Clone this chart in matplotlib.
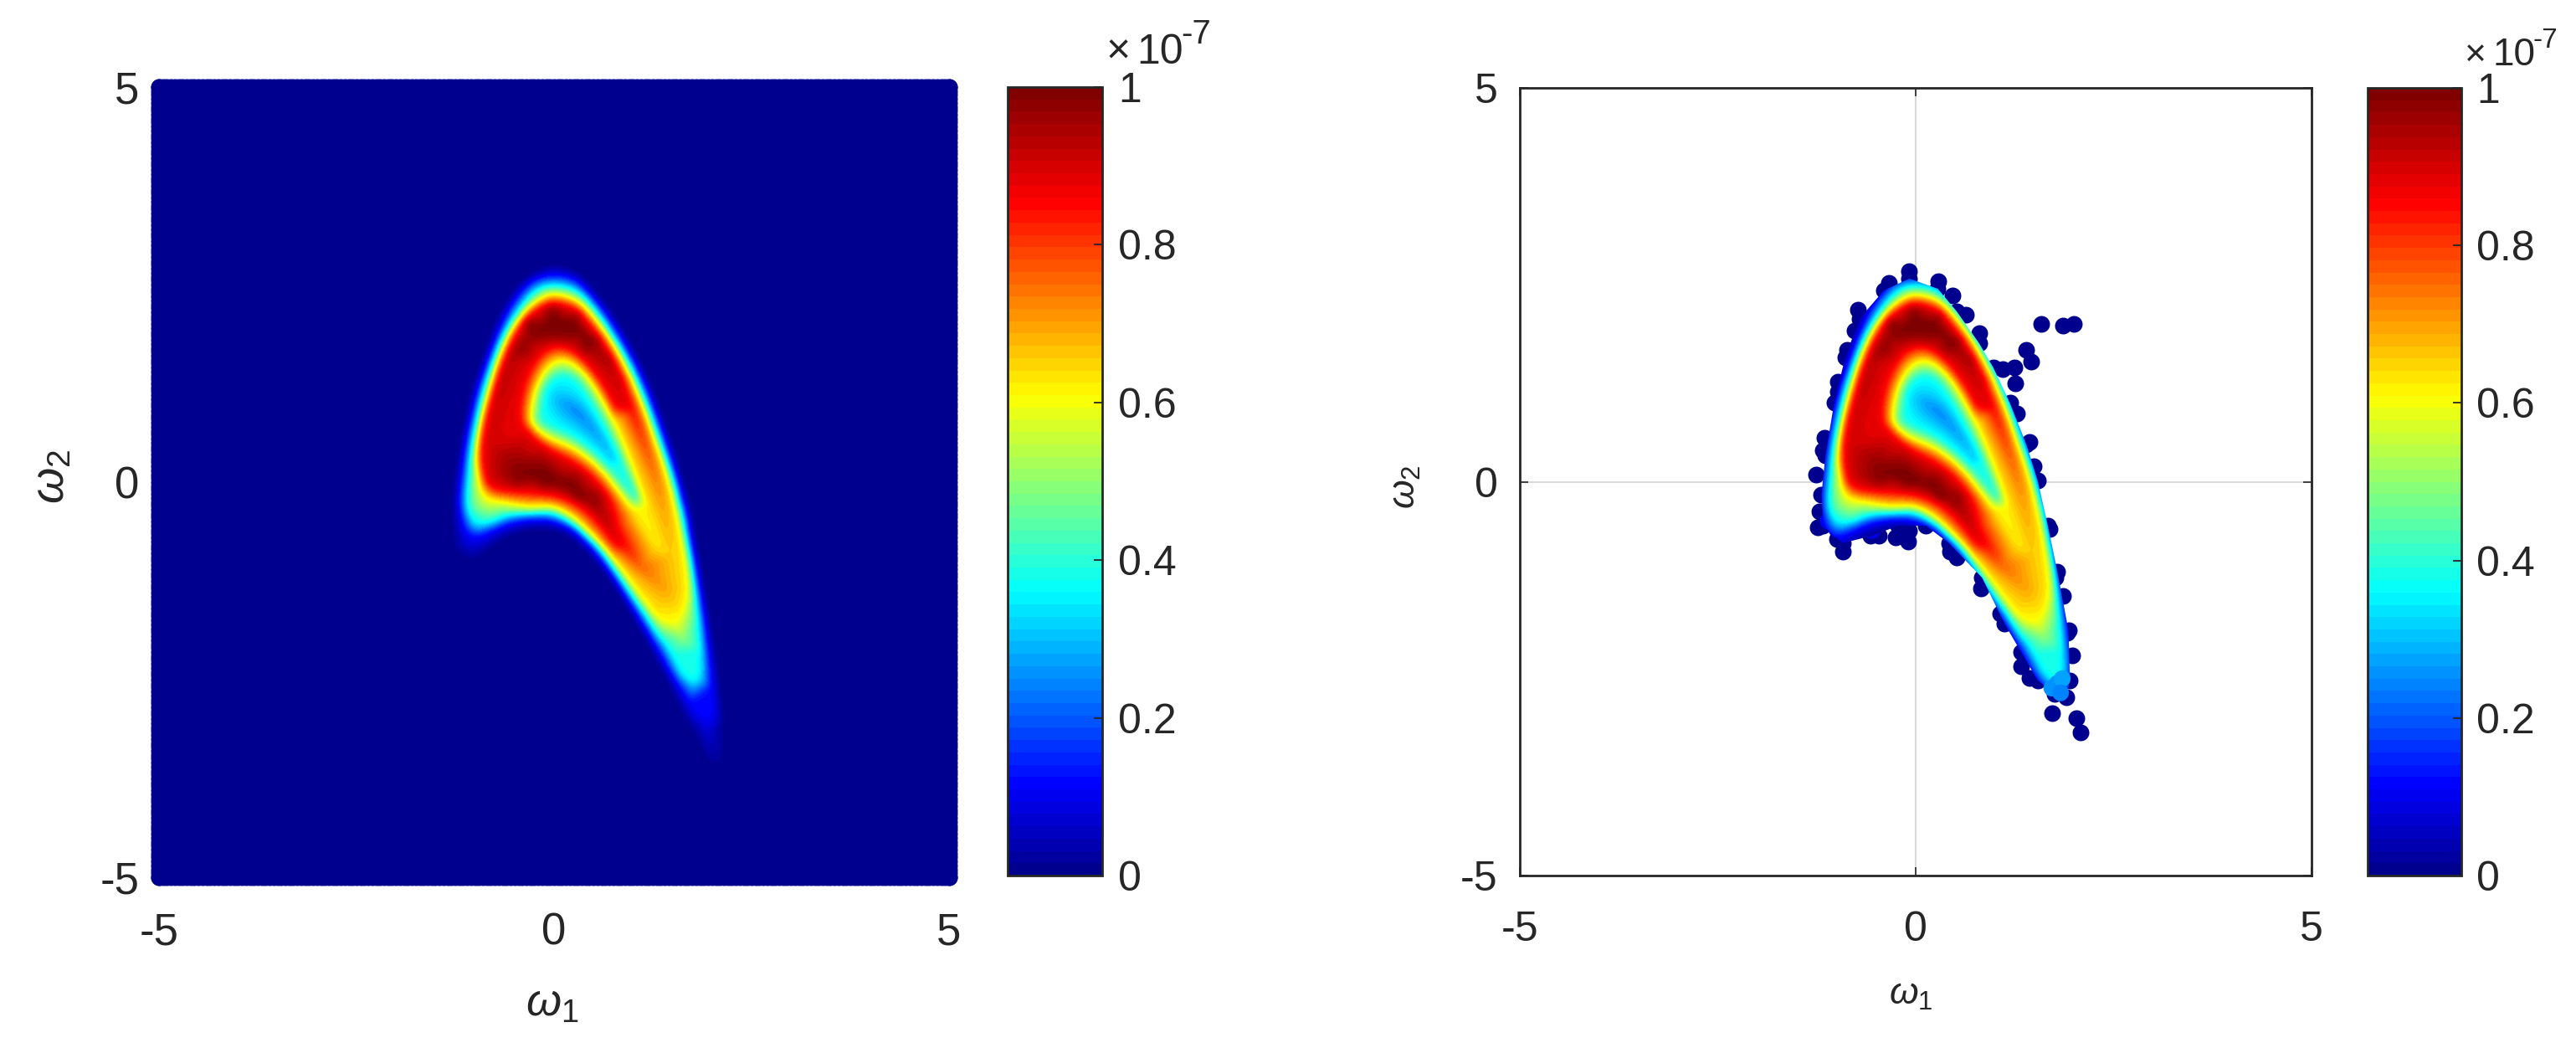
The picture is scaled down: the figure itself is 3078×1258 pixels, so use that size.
import numpy as np
import matplotlib
matplotlib.use('Agg')
import matplotlib.pyplot as plt
import matplotlib.tri as mtri
from matplotlib.cm import ScalarMappable
from matplotlib.colors import LinearSegmentedColormap, Normalize
from matplotlib.patches import Polygon

plt.rcParams['font.family'] = ['Liberation Sans', 'DejaVu Sans']
plt.rcParams['mathtext.fontset'] = 'custom'
plt.rcParams['mathtext.rm'] = 'Liberation Sans'
plt.rcParams['mathtext.it'] = 'Liberation Sans:italic'
plt.rcParams['axes.unicode_minus'] = False

# density (in units of 1e-7)
level_zero = 0.0
zero_x = [-.02, .30, .54, .79, 1.04, 1.25, 1.43, 1.59, 1.71, 1.83, 1.92, 2.03, 2.12, 2.20, 2.17, 2.03, 1.85, 1.67, 1.46, 1.29, 1.11, .93, .76, .58, .40, .23, -.02, -.30, -.55, -.76, -1.01, -1.26, -1.29, -1.28, -1.24, -1.17, -1.05, -.92, -.76, -.59, -.34]
zero_y = [2.75, 2.66, 2.41, 2.08, 1.63, 1.16, .67, .16, -.29, -.91, -1.44, -2.07, -2.78, -3.32, -3.76, -3.76, -3.41, -3.05, -2.60, -2.27, -1.93, -1.62, -1.33, -1.09, -.89, -.73, -.62, -.62, -.69, -.82, -1.00, -1.00, -.64, -.20, .16, .61, 1.14, 1.54, 1.99, 2.32, 2.61]

level_blue = 0.12
blue_x = [-.02, .26, .47, .72, .97, 1.18, 1.36, 1.52, 1.64, 1.76, 1.85, 1.94, 2.00, 2.00, 1.82, 1.62, 1.46, 1.29, 1.11, .93, .76, .58, .40, .23, -.02, -.30, -.59, -.80, -.98, -1.12, -1.19, -1.17, -1.10, -.98, -.85, -.69, -.52, -.30]
blue_y = [2.61, 2.55, 2.35, 2.01, 1.59, 1.14, .65, .16, -.29, -.91, -1.44, -2.07, -2.60, -2.95, -2.92, -2.64, -2.38, -2.07, -1.76, -1.47, -1.20, -.95, -.75, -.60, -.49, -.47, -.53, -.62, -.69, -.60, -.29, .07, .56, 1.10, 1.50, 1.92, 2.26, 2.52]

level_cyan = 0.38
cyan_x = [0, .28, .51, .74, .97, 1.16, 1.32, 1.48, 1.60, 1.71, 1.79, 1.84, 1.85, 1.78, 1.62, 1.46, 1.29, 1.11, .93, .76, .58, .40, .23, -.02, -.30, -.59, -.83, -1.01, -1.10, -1.08, -1.03, -.92, -.80, -.66, -.48, -.23]
cyan_y = [2.48, 2.41, 2.19, 1.85, 1.45, 1.01, .56, .09, -.37, -.91, -1.42, -1.93, -2.32, -2.50, -2.42, -2.12, -1.90, -1.62, -1.36, -1.11, -.86, -.68, -.53, -.40, -.40, -.42, -.51, -.49, -.29, .07, .52, 1.05, 1.45, 1.81, 2.12, 2.41]

level_yellow = 0.62
yellow_x = [.01, .30, .54, .76, .97, 1.14, 1.30, 1.45, 1.57, 1.66, 1.69, 1.60, 1.43, 1.29, 1.11, .93, .76, .58, .40, .23, -.02, -.30, -.59, -.87, -.96, -.98, -.92, -.83, -.71, -.55, -.36, -.16]
yellow_y = [2.37, 2.28, 2.03, 1.72, 1.32, .92, .47, .03, -.46, -.95, -1.36, -1.67, -1.76, -1.69, -1.47, -1.22, -1.00, -.78, -.60, -.44, -.31, -.31, -.26, -.17, .12, .38, .78, 1.14, 1.54, 1.90, 2.17, 2.32]

level_red = 0.87
red_x = [.88, .69, .47, .26, .01, -.13, -.34, -.52, -.67, -.80, -.90, -.92, -.87, -.73, -.52, -.23, .01, .26, .51, .72, .80]
red_y = [1.28, 1.65, 1.97, 2.19, 2.26, 2.23, 2.08, 1.81, 1.45, 1.05, .65, .34, .03, -.08, -.11, -.13, -.17, -.26, -.46, -.73, -.80]

ridge_x = [1.50, 1.46, 1.36, 1.22, 1.00, .76, .47, .26, -.02, -.30, -.55, -.69, -.78, -.76, -.55, -.20, .23, .54, .90, 1.11, 1.39]
ridge_y = [-1.09, -.78, -.20, .29, .92, 1.41, 1.77, 1.97, 2.03, 1.85, 1.59, 1.14, .70, .25, .07, .07, -.08, -.33, -.82, -1.09, -1.36]
ridge_v = [.66, .67, .72, .78, .87, .93, .98, 1.0, 1.0, .98, .94, .92, .90, .92, .97, 1.0, 1.0, .96, .86, .76, .70]

# the flat darkest areas of the two arcs
level_dark = 0.98
dark_x = [-.34, -.02, .30, .54, .72, .40, .12, -.16, -.41, -.48, -.13, .26, .54, .26, -.13, -.48]
dark_y = [2.03, 2.19, 2.12, 1.81, 1.54, 1.70, 1.85, 1.85, 1.68, .21, .21, .03, -.20, -.20, -.04, 0]

inner_red_x = [.76, .58, .33, .08, -.16, -.36, -.43, -.30, -.06, .23, .47, .69, .75]
inner_red_y = [.96, 1.28, 1.59, 1.72, 1.63, 1.28, .83, .61, .41, .25, .07, -.20, -.40]

inner_yellow_x = [-.30, -.23, -.06, .16, .40, .61, .81, 1.00, 1.16, 1.29, 1.04, .83, .58, .26, -.09, -.27]
inner_yellow_y = [.87, 1.19, 1.48, 1.54, 1.36, 1.05, .65, .16, -.33, -.78, -.42, -.15, .16, .41, .56, .72]

inner_cyan_x = [-.16, -.11, .05, .26, .47, .69, .86, 1.04, .83, .54, .26, -.02, -.16]
inner_cyan_y = [.92, 1.19, 1.34, 1.30, 1.01, .61, .25, -.20, .03, .34, .56, .70, .78]

hole_x = [.01, .26, .54, .76]
hole_y = [1.05, .92, .61, .29]
hole_v = [.30, .24, .26, .30]

tail_x = [1.64, 1.95, 2.00]
tail_y = [-1.98, -3.20, -3.45]
tail_v = [.50, .07, .04]

# outline of the coloured cloud in the right panel
hull_x = [-.08, .28, .52, .80, .98, 1.19, 1.40, 1.54, 1.67, 1.79, 1.93, 1.95, 1.90, 1.76, 1.54, 1.33, 1.12, .84, .42, .13, -.22, -.57, -.92, -1.17, -1.19, -1.14, -1.03, -.89, -.71, -.40]
hull_y = [2.58, 2.45, 2.16, 1.76, 1.45, 1.00, .47, .02, -.56, -1.14, -1.89, -2.52, -2.74, -2.69, -2.52, -2.16, -1.80, -1.22, -.78, -.56, -.56, -.69, -.78, -.56, -.16, .33, 1.00, 1.58, 2.07, 2.43]

# sparse dark samples around the cloud
fringe_x = [-.08, -.34, .29, .47, .63, .80, -.73, -.77, -.87, -.98, -.98, -1.15, -1.17, -1.26, -1.22, -1.24, -.99, -.92, -.47, -.25, -.10, -.08, .43, .52, .82, 1.07, 1.33, 1.44, 1.72, 2.03, 2.08, 1.98, 1.91, 1.86, 1.77, 1.69, 1.49, 1.44, 1.28, 1.59, 1.86, 2.00, 1.40, 1.46, 1.25, 1.10, 1.26]
fringe_y = [2.67, 2.52, 2.54, 2.36, 2.12, 1.89, 2.18, 1.92, 1.67, 1.27, 1.14, .56, .40, .09, -.38, -.58, -.73, -.89, -.69, -.71, -.76, -.62, -.89, -.96, -1.36, -1.67, -2.34, -2.49, -2.94, -3.00, -3.18, -2.20, -1.92, -1.45, -1.22, -.60, .20, .51, .87, 2.00, 1.98, 2.00, 1.67, 1.53, 1.45, 1.43, 1.25]

# coloured samples: blue ones under the cloud, light ones closing the tail
rim_x = [-1.00, -.75, -.55, -1.10]
rim_y = [-.60, -.62, -.62, -.50]
rim_v = [.08, .10, .08, .10]
tip_x = [1.79, 1.72, 1.85, 1.83]
tip_y = [-2.56, -2.62, -2.50, -2.68]
tip_v = [.26, .26, .28, .24]

ticks = [-5, 0, 5]
cbar_ticks = [0, 0.2, 0.4, 0.6, 0.8, 1]
cbar_labels = ['0', '0.2', '0.4', '0.6', '0.8', '1']

W, H = 3078, 1258
jet = LinearSegmentedColormap.from_list(
    'matlab_jet',
    [(0, (0, 0, .5625)), (.1094, (0, 0, 1)), (.3594, (0, 1, 1)), (.6094, (1, 1, 0)), (.8594, (1, 0, 0)), (1, (.5, 0, 0))],
    N=64)
norm = Normalize(0, 1)
navy = jet(0)
dark = '#262626'


def frac_axes(x0, y0, x1, y1):
    return fig.add_axes([x0 / W, 1 - y1 / H, (x1 - x0) / W, (y1 - y0) / H])


def put(x, y, s, size, **kw):
    fig.text(x / W, 1 - y / H, s, fontsize=size, color=dark, **kw)


def round_curve(x, y, v, closed):
    # more nodes along a read iso-line, so that its corners do not show
    p = np.c_[x, y, v]
    n = len(p)
    out = []
    last = n if closed else n - 1
    for i in range(last):
        if closed:
            a, b, c, d = p[(i - 1) % n], p[i], p[(i + 1) % n], p[(i + 2) % n]
        else:
            a, b, c, d = p[max(i - 1, 0)], p[i], p[i + 1], p[min(i + 2, n - 1)]
        for t in (0, .25, .5, .75):
            out.append(.5 * (2 * b + (c - a) * t + (2 * a - 5 * b + 4 * c - d) * t ** 2 + (3 * b - a - 3 * c + d) * t ** 3))
    if not closed:
        out.append(p[-1])
    return np.array(out)


def build_field():
    curves = [
        round_curve(zero_x, zero_y, [level_zero] * len(zero_x), True),
        round_curve(blue_x, blue_y, [level_blue] * len(blue_x), True),
        round_curve(cyan_x, cyan_y, [level_cyan] * len(cyan_x), True),
        round_curve(yellow_x, yellow_y, [level_yellow] * len(yellow_x), True),
        round_curve(red_x, red_y, [level_red] * len(red_x), False),
        round_curve(ridge_x, ridge_y, ridge_v, False),
        np.c_[dark_x, dark_y, [level_dark] * len(dark_x)],
        round_curve(inner_red_x, inner_red_y, [level_red] * len(inner_red_x), False),
        round_curve(inner_yellow_x, inner_yellow_y, [level_yellow] * len(inner_yellow_x), True),
        round_curve(inner_cyan_x, inner_cyan_y, [level_cyan] * len(inner_cyan_x), True),
        round_curve(hole_x, hole_y, hole_v, False),
        np.c_[tail_x, tail_y, tail_v],
    ]
    nodes = np.vstack(curves)
    tri = mtri.Triangulation(nodes[:, 0], nodes[:, 1])
    interp = mtri.LinearTriInterpolator(tri, nodes[:, 2])
    gx = np.arange(-2, 3.001, 0.01)
    gy = np.arange(-4.5, 3.501, 0.01)
    X, Y = np.meshgrid(gx, gy)
    Z = np.ma.filled(interp(X, Y), 0.0)
    # soften the facets of the triangles
    box = np.ones(9) / 9
    for _ in range(3):
        Z = np.apply_along_axis(np.convolve, 0, Z, box, mode='same')
        Z = np.apply_along_axis(np.convolve, 1, Z, box, mode='same')
    return Z, [gx[0], gx[-1], gy[0], gy[-1]]


def draw_field(ax, clip=None):
    im = ax.imshow(Zfield, extent=extent, origin='lower', cmap=jet, norm=norm, interpolation='bilinear',
                   zorder=3, aspect='auto')
    if clip is not None:
        im.set_clip_path(clip)
    ax.set_xlim(-5, 5)
    ax.set_ylim(-5, 5)


def style_axis(ax, size, xpad, ypad, tick_len):
    ax.set_xlim(-5, 5)
    ax.set_ylim(-5, 5)
    ax.set_xticks(ticks)
    ax.set_yticks(ticks)
    ax.tick_params(labelsize=size, labelcolor=dark, color=dark, direction='in', length=tick_len, width=1.2,
                   top=True, right=True)
    ax.tick_params(axis='x', pad=xpad)
    ax.tick_params(axis='y', pad=ypad)
    for s in ax.spines.values():
        s.set_color(dark)
        s.set_linewidth(2)


def colorbar(x0, y0, x1, y1, size, pad):
    cax = frac_axes(x0, y0, x1, y1)
    cb = fig.colorbar(ScalarMappable(norm=norm, cmap=jet), cax=cax)
    cb.set_ticks(cbar_ticks, labels=cbar_labels)
    cb.ax.tick_params(labelsize=size, labelcolor=dark, color=dark, direction='in', length=7, width=1.3, pad=pad)
    cb.outline.set_edgecolor(dark)
    cb.outline.set_linewidth(2)


Zfield, extent = build_field()

fig = plt.figure(figsize=(W / 100, H / 100), dpi=100)

# left panel
ax1 = frac_axes(190, 104, 1134, 1048)
style_axis(ax1, 38, 30, 17, 0)
ax1.set_facecolor(navy)
for s in ax1.spines.values():
    s.set_visible(False)
side = np.arange(-5, 5.01, 0.05)
ax1.scatter(np.r_[side, side, side * 0 - 5, side * 0 + 5], np.r_[side * 0 - 5, side * 0 + 5, side, side],
            s=207, color=navy, linewidths=0, clip_on=False, zorder=2)
draw_field(ax1)

# right panel
ax2 = frac_axes(1816, 105, 2762, 1046)
style_axis(ax2, 36, 30, 19, 7)
ax2.axhline(0, color='#d9d9d9', lw=1.5, zorder=1)
ax2.axvline(0, color='#d9d9d9', lw=1.5, zorder=1)
ax2.scatter(fringe_x, fringe_y, s=207, color=navy, linewidths=0, zorder=2)
ax2.scatter(hull_x, hull_y, s=207, color=navy, linewidths=0, zorder=2)
ax2.scatter(rim_x, rim_y, c=rim_v, s=207, cmap=jet, norm=norm, linewidths=0, zorder=2.5)
hull = Polygon(np.c_[hull_x, hull_y], transform=ax2.transData, closed=True, fc='none', ec='none')
ax2.add_patch(hull)
draw_field(ax2, hull)
ax2.scatter(tip_x, tip_y, c=tip_v, s=207, cmap=jet, norm=norm, linewidths=0, zorder=4)

colorbar(1204, 104, 1317, 1046, 36, 14)
colorbar(2829, 105, 2941, 1046, 36, 13)

# axis names and the colour bar exponent
put(628, 1214, r'$\omega_1$', 39, ha='left', va='baseline')
put(2257, 1200, r'$\omega_1$', 32, ha='left', va='baseline')
put(62, 570, r'$\omega_2$', 40, rotation=90, ha='center', va='center')
put(1680, 582, r'$\omega_2$', 32, rotation=90, ha='center', va='center')

put(1322, 76, '\u00d7', 36, ha='left', va='baseline')
put(1358, 76, '10', 36, ha='left', va='baseline')
put(1411, 52, '-7', 29, ha='left', va='baseline')
put(2945, 78, '\u00d7', 32, ha='left', va='baseline')
put(2978, 78, '10', 33, ha='left', va='baseline')
put(3026, 57, '-7', 24, ha='left', va='baseline')

fig.savefig('out.png', dpi=100)
